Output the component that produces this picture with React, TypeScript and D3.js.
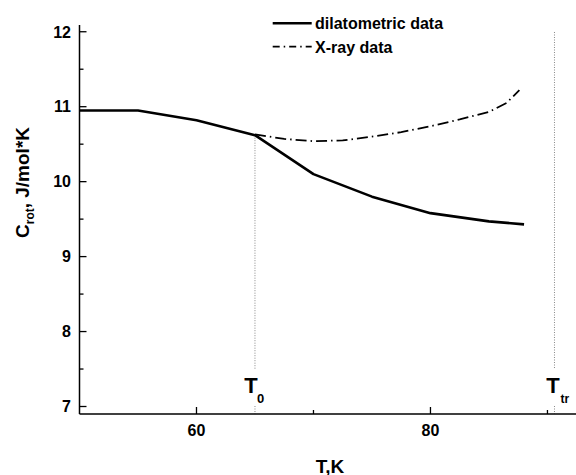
import React from "react";
import * as d3 from "d3";

const dilT = [50, 55, 60, 65, 70, 75, 80, 85, 88];
const dilC = [10.95, 10.95, 10.82, 10.62, 10.1, 9.8, 9.58, 9.47, 9.43];
const xrayT = [65, 67.5, 70, 72.5, 75, 77.5, 80, 82.5, 85, 86.5, 87.6];
const xrayC = [10.63, 10.57, 10.54, 10.55, 10.6, 10.66, 10.74, 10.83, 10.93, 11.05, 11.22];
const xMajor = [60, 80];
const xMinor = [70, 90];
const yMajor = [7, 8, 9, 10, 11, 12];
const yMinor = [7.5, 8.5, 9.5, 10.5, 11.5];
const T0 = 65;
const Ttr = 90.6;
const T0C = 10.62;

const W = 576, H = 475;
const FONT = "'Liberation Sans', Arial, Helvetica, sans-serif";

export default function App() {
  const x = d3.scaleLinear().domain([50, 92.44]).range([79.5, 576]);
  const y = d3.scaleLinear().domain([6.9, 12.09]).range([414, 25]);
  const line = d3.line<[number, number]>().x(d => x(d[0])).y(d => y(d[1]));
  const dil = line(dilT.map((t, i) => [t, dilC[i]] as [number, number]))!;
  const xr = line(xrayT.map((t, i) => [t, xrayC[i]] as [number, number]))!;
  const x0 = x.range()[0];
  const yb = y.range()[0];
  const dash = "11,4,1.5,4";
  return (
    <svg width={W} height={H} style={{ position: "absolute", left: 0, top: 0, background: "#fff" }}
      fontFamily={FONT} fontWeight="bold">
      {/* vertical markers */}
      <line x1={x(T0)} x2={x(T0)} y1={y(T0C)} y2={369} stroke="#888" strokeWidth={1} strokeDasharray="1,1.5" />
      <line x1={x(T0)} x2={x(T0)} y1={406} y2={yb} stroke="#888" strokeWidth={1} strokeDasharray="1,1.5" />
      <line x1={x(Ttr)} x2={x(Ttr)} y1={32} y2={369} stroke="#888" strokeWidth={1} strokeDasharray="1,1.5" />
      <line x1={x(Ttr)} x2={x(Ttr)} y1={406} y2={yb} stroke="#888" strokeWidth={1} strokeDasharray="1,1.5" />
      {/* data */}
      <path d={dil} fill="none" stroke="#000" strokeWidth={2.6} strokeLinejoin="round" />
      <path d={xr} fill="none" stroke="#000" strokeWidth={1.8} strokeDasharray={dash} />
      {/* axes */}
      <line x1={x0} x2={x0} y1={y.range()[1]} y2={yb} stroke="#000" strokeWidth={1.5} />
      <line x1={x0} x2={W} y1={yb} y2={yb} stroke="#000" strokeWidth={1.5} />
      {yMajor.map(v => (
        <g key={"ym" + v}>
          <line x1={x0} x2={x0 + 7} y1={y(v)} y2={y(v)} stroke="#000" strokeWidth={1.3} />
          <text x={71} y={y(v)} dy="0.36em" textAnchor="end" fontSize={16}>{v}</text>
        </g>
      ))}
      {yMinor.map(v => (
        <line key={"yn" + v} x1={x0} x2={x0 + 4} y1={y(v)} y2={y(v)} stroke="#000" strokeWidth={1.3} />
      ))}
      {xMajor.map(v => (
        <g key={"xm" + v}>
          <line x1={x(v)} x2={x(v)} y1={yb} y2={yb - 7} stroke="#000" strokeWidth={1.3} />
          <text x={x(v)} y={436} textAnchor="middle" fontSize={16}>{v}</text>
        </g>
      ))}
      {xMinor.map(v => (
        <line key={"xn" + v} x1={x(v)} x2={x(v)} y1={yb} y2={yb - 4} stroke="#000" strokeWidth={1.3} />
      ))}
      {/* marker labels */}
      <text x={x(T0) - 4} y={392.5} textAnchor="middle" fontSize={22}>T</text>
      <text x={x(T0) + 2} y={402.5} fontSize={13}>0</text>
      <text x={x(Ttr) - 1.5} y={392.5} textAnchor="middle" fontSize={22}>T</text>
      <text x={x(Ttr) + 6} y={402.5} fontSize={12}>tr</text>
      {/* axis titles */}
      <text x={330} y={472.5} textAnchor="middle" fontSize={19}>T,K</text>
      <text transform="translate(28.5,182.5) rotate(-90)" textAnchor="middle" fontSize={19}>
        C<tspan fontSize={12} dy={5}>rot</tspan><tspan dy={-5}>, J/mol*K</tspan>
      </text>
      {/* legend */}
      <line x1={272.7} x2={311.7} y1={23.3} y2={23.3} stroke="#000" strokeWidth={2.6} />
      <text x={315} y={29} fontSize={16}>dilatometric data</text>
      <line x1={272.7} x2={311.7} y1={46.7} y2={46.7} stroke="#000" strokeWidth={1.8} strokeDasharray="7,4,1.5,4" />
      <text x={315} y={52.5} fontSize={16}>X-ray data</text>
    </svg>
  );
}
